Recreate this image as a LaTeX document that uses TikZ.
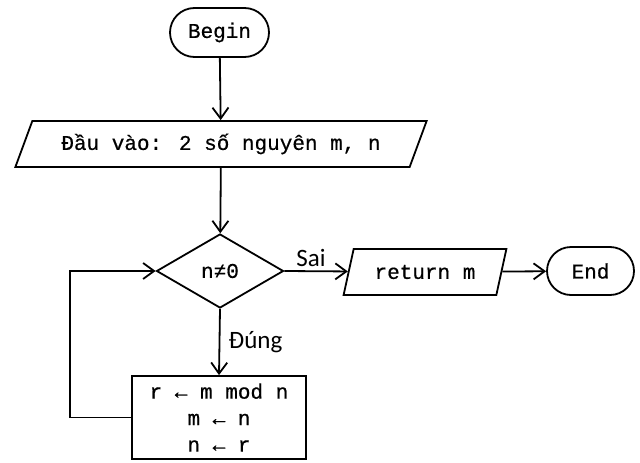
\documentclass[tikz,border=0pt]{standalone}
\usepackage{fontspec}
\setmainfont{Carlito}
\newfontfamily\codefont[FakeBold=0.6]{Liberation Mono}
\usetikzlibrary{shapes.geometric,shapes.misc,arrows.meta}

\tikzset{
  codetext/.style={font=\codefont\fontsize{21pt}{26.5pt}\selectfont},
  terminal/.style={draw, rounded rectangle, codetext, inner sep=0pt},
  inout/.style={draw, trapezium, trapezium stretches=true, codetext, inner sep=0pt},
  decision/.style={draw, diamond, codetext, inner sep=0pt, minimum width=127pt, minimum height=74pt},
  process/.style={draw, rectangle, codetext, align=center, inner sep=0pt, minimum width=174pt, minimum height=83pt},
  flow/.style={draw, -{Straight Barb[length=11pt,width=16pt]}},
  branch/.style={font=\fontsize{25pt}{28pt}\selectfont}
}

\begin{document}
\begin{tikzpicture}[x=1pt, y=-1pt, line width=1.8pt]
  \useasboundingbox (0,0) rectangle (640,463);

  %%%%% nodes %%%%%
  \node[terminal, minimum width=99pt, minimum height=49pt] (begin) at (219.5,32.5) {Begin};
  \node[inout, trapezium left angle=55, trapezium right angle=125,
        minimum width=412pt, minimum height=46pt] (input) at (221,144) {Đầu vào: 2 số nguyên m, n};
  \node[decision] (cond) at (220,271) {n≠0};
  \node[inout, trapezium left angle=63.4, trapezium right angle=116.6,
        minimum width=163pt, minimum height=46pt] (ret) at (425,272) {return m};
  \node[terminal, minimum width=87pt, minimum height=48pt] (fin) at (590.5,271) {End};
  \node[process] (body) at (219,417.5) {r ← m mod n\\m ← n\\n ← r};

  %%%%% connectors %%%%%
  \draw[flow] (begin) -- (input);
  \draw[flow] (input) -- (cond);
  \draw[flow] (cond.east) -- node[branch, above, pos=0.42] {Sai} (ret);
  \draw[flow] (ret) -- (fin);
  \draw[flow] (cond.south) -- node[branch, right, xshift=5pt] {Đúng} (body.north);
  \draw[flow] (body.west) -- ++(-61,0) |- (cond.west);
\end{tikzpicture}
\end{document}
